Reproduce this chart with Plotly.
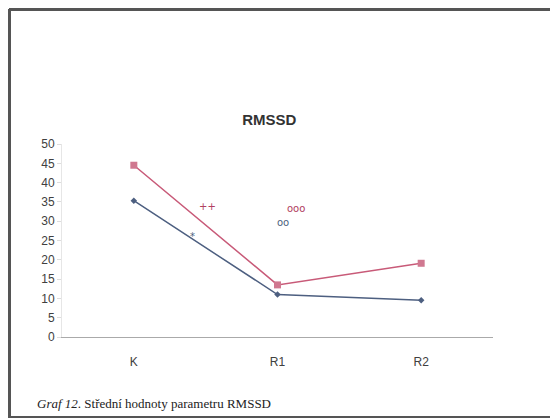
import plotly.graph_objects as go

categories = ["K", "R1", "R2"]
series_red = [44.5, 13.5, 19.1]
series_blue = [35.3, 11.0, 9.5]
y_ticks = [0, 5, 10, 15, 20, 25, 30, 35, 40, 45, 50]

xpos = list(range(len(categories)))

# page has an 8px body margin; figure coordinates = page coordinates - 8
W, H = 550, 411
L, T = 54, 136
PW, PH = 431, 193
R = W - L - PW
B = H - T - PH


def px(xp):
    return (xp - 8 - L) / PW


def py(yp):
    return (T + PH - (yp - 8)) / PH


fig = go.Figure()
fig.add_trace(go.Scatter(
    x=xpos, y=series_blue, mode="lines+markers",
    line=dict(color="#4d5f80", width=1.5),
    marker=dict(symbol="diamond", size=5, color="#4d5f80"),
    showlegend=False))
fig.add_trace(go.Scatter(
    x=xpos, y=series_red, mode="lines+markers",
    line=dict(color="#c85a78", width=1.5),
    marker=dict(symbol="square", size=7, color="#d07890"),
    showlegend=False))

# significance markers
marks = [
    (0.51, 33.8, "++", "#b04060"),
    (0.41, 26.0, "*", "#4d5f80"),
    (1.13, 33.3, "ooo", "#b04060"),
    (1.04, 29.6, "oo", "#4d5f80"),
]
for mx, my, txt, col in marks:
    fig.add_annotation(x=mx, y=my, xref="x", yref="y", text=txt, showarrow=False,
                       font=dict(family="DejaVu Sans", size=10, color=col))

fig.update_layout(
    width=W, height=H,
    margin=dict(l=L, r=R, t=T, b=B, pad=0),
    paper_bgcolor="white", plot_bgcolor="white",
    title=dict(text="<b>RMSSD</b>", x=0.475, xanchor="center", y=1 - (120 - 8) / H, yanchor="middle",
               font=dict(family="Liberation Sans", size=15, color="#333333")),
    xaxis=dict(range=[-0.5, 2.5], tickvals=xpos, ticktext=categories, showgrid=False,
               zeroline=False, showline=True, linecolor="#aaaaaa", linewidth=1,
               ticks="", tickfont=dict(family="Liberation Sans", size=12, color="#404040"),
               ticklabelstandoff=14),
    yaxis=dict(range=[0, 50], tickvals=y_ticks, showgrid=False, zeroline=False,
               showline=True, linecolor="#e6e6e6", ticks="outside", ticklen=4, tickcolor="#dddddd",
               tickfont=dict(family="Liberation Sans", size=12, color="#404040")),
    shapes=[
        dict(type="line", xref="paper", yref="paper",
             x0=px(9), x1=px(560), y0=py(9.5), y1=py(9.5),
             line=dict(color="#555555", width=3)),
        dict(type="line", xref="paper", yref="paper",
             x0=px(9.5), x1=px(9.5), y0=py(9), y1=py(418),
             line=dict(color="#555555", width=3)),
        dict(type="line", xref="paper", yref="paper",
             x0=px(9), x1=px(560), y0=py(417), y1=py(417),
             line=dict(color="#555555", width=2)),
    ],
)
fig.add_annotation(
    xref="paper", yref="paper", x=px(35), y=py(403),
    xanchor="left", yanchor="middle", showarrow=False,
    text="<i>Graf 12</i>. Střední hodnoty parametru RMSSD",
    font=dict(family="Liberation Serif", size=13, color="#222222"))

fig.write_html("out.html")
